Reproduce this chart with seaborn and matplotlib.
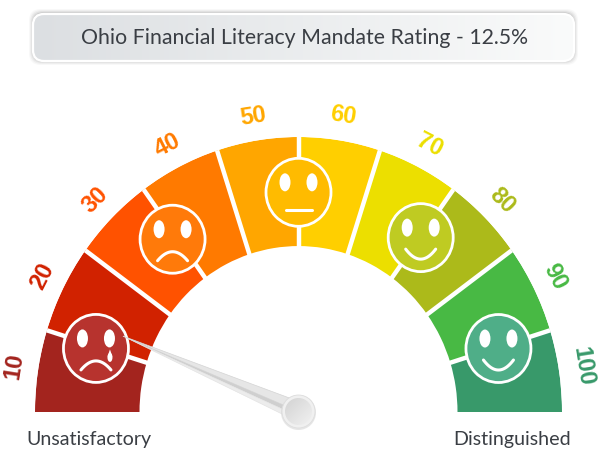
import numpy as np
import pandas as pd
import matplotlib
matplotlib.use("Agg")
import matplotlib.pyplot as plt
import seaborn as sns
from matplotlib.colors import LinearSegmentedColormap
from matplotlib.patches import Ellipse, FancyBboxPatch, Polygon, Circle

# ---- data ----
tick_labels = ["10", "20", "30", "40", "50", "60", "70", "80", "90", "100"]
band_tops = [10, 20, 30, 40, 50, 60, 70, 80, 90, 100]
band_edges = [0, 9.6, 20, 30, 40, 50, 60, 70, 80, 90.4, 100]
band_colors = ["#a3241e", "#d12200", "#ff5200", "#ff7a00", "#ffa600",
               "#ffcf00", "#ecdf00", "#acba1a", "#48b944", "#38996a"]
needle_value = 12.5
title_text = "Ohio Financial Literacy Mandate Rating - 12.5%"
low_label = "Unsatisfactory"
high_label = "Distinguished"
face_values = [9.3, 29.3, 50, 70.1, 90.6]
face_radii = [211.5, 208, 210.5, 207, 209]
face_colors = ["#b7332e", "#ff7a0a", "#ffbb00", "#bfcb22", "#4fae88"]
face_moods = [-1, -1, 0, 1, 1]

W, H = 600, 452
CX, CY, RX, RY = 298.5, 413, 263.5, 275
R_IN = 159
TEXT_FONT = "Lato"

sns.set_theme(style="white", rc={"axes.grid": False})
fig = plt.figure(figsize=(W / 100, H / 100), dpi=100, facecolor="white")

def theta(v):
    return np.deg2rad(180 - 1.8 * np.asarray(v, dtype=float))

# polar gauge axes, stretched slightly taller than wide
gauge = fig.add_axes([(CX - RX) / W, 1 - (CY + RY) / H, 2 * RX / W, 2 * RY / H],
                     projection="polar")
gauge.set_aspect("auto")
gauge.patch.set_alpha(0)
df = pd.DataFrame({"theta": theta(np.array(band_tops) - 5),
                   "depth": RX - R_IN, "label": tick_labels})
sns.barplot(data=df, x="theta", y="depth", hue="label", hue_order=tick_labels,
            palette=band_colors, saturation=1, native_scale=True, width=1,
            legend=False, ax=gauge, linewidth=0, errorbar=None, bottom=R_IN)
for patch, lo, hi in zip(gauge.patches, band_edges[:-1], band_edges[1:]):
    patch.set_x(float(theta(hi)))
    patch.set_width(float(theta(lo) - theta(hi)))
gauge.set_xlim(0, 2 * np.pi)
gauge.set_ylim(0, RX)
gauge.set_xlabel(""); gauge.set_ylabel("")
gauge.set_xticks([]); gauge.set_yticks([])
gauge.grid(False)
gauge.spines["polar"].set_visible(False)
for b in band_edges[1:-1]:
    gauge.plot([theta(b)] * 2, [R_IN - 3, RX + 3], color="white", lw=3.2,
               solid_capstyle="butt", zorder=3)

for t, lab, col in zip(band_tops, tick_labels, band_colors):
    a = 180 - 1.8 * (t - 5)
    gauge.text(theta(t - 5), 288, lab, rotation=a - 90, rotation_mode="anchor",
               ha="center", va="center", color=col, fontsize=17,
               fontweight="bold", family="Liberation Sans", clip_on=False)

# overlay in pixel space for gauge furniture
ov = fig.add_axes([0, 0, 1, 1], zorder=5)
ov.set_xlim(0, W); ov.set_ylim(H, 0); ov.axis("off"); ov.patch.set_alpha(0)

def to_px(v, r):
    p = gauge.transData.transform((float(theta(v)), r))
    return ov.transData.inverted().transform(p)

# title box
for g, a in [(4, .05), (3, .07), (2, .10), (1, .16)]:
    ov.add_patch(FancyBboxPatch((33 - g, 14 - g), 541 + 2 * g, 48 + 2 * g,
                 boxstyle="round,pad=0,rounding_size=12", fc="#777777", ec="none", alpha=a))
box = FancyBboxPatch((33, 15), 541, 47, boxstyle="round,pad=0,rounding_size=11",
                     fc="none", ec="white", lw=1.6, zorder=3)
ov.add_patch(box)
grad = ov.imshow(np.linspace(0, 1, 256)[None, :], extent=(33, 574, 62, 15), aspect="auto",
                 cmap=LinearSegmentedColormap.from_list("g", ["#dcdfe2", "#fafbfb"]), zorder=2)
grad.set_clip_path(box)
ov.set_xlim(0, W); ov.set_ylim(H, 0)
ov.text(304.5, 37.5, title_text, ha="center", va="center", fontsize=15.3, color="#3a3e44",
        family=TEXT_FONT, zorder=4)

# faces
for v, r, col, mood in zip(face_values, face_radii, face_colors, face_moods):
    x, y = to_px(v, r)
    ov.add_patch(Ellipse((x, y), 65, 68, fc=col, ec="white", lw=2))
    for s in (-1, 1):
        ov.add_patch(Ellipse((x + s * 13.5, y - 10), 11, 18, fc="white", ec="none"))
    u = np.linspace(-15, 15, 30)
    if mood == 0:
        ov.plot([x - 13, x + 13], [y + 18, y + 18], color="white", lw=2.2, solid_capstyle="round")
    elif mood > 0:
        ov.plot(x + u, y + 21.5 - 10 * (u / 15) ** 2, color="white", lw=2.2, solid_capstyle="round")
    else:
        ov.plot(x + u, y + 12.5 + 9 * (u / 15) ** 2, color="white", lw=2.2, solid_capstyle="round")
    if col == face_colors[0]:
        ov.add_patch(Ellipse((x + 14, y + 9), 5, 9, fc="white", ec="none"))
        ov.add_patch(Polygon([(x + 14, y + 1), (x + 11.6, y + 8), (x + 16.4, y + 8)], fc="white", ec="none"))

# needle
tip = np.asarray(to_px(needle_value, 190))
piv = np.array([CX, CY - 0.5])
d = piv - tip
u = d / np.hypot(*d)
n = np.array([-u[1], u[0]])
ov.add_patch(Polygon([tip, piv - 9.5 * n, piv], fc="#e6e6e6", ec="#d4d4d4", lw=.5))
ov.add_patch(Polygon([tip, piv, piv + 4.5 * n], fc="#cfcfcf", ec="none"))
ov.add_patch(Polygon([tip, piv + 4.5 * n, piv + 9.5 * n], fc="#ececec", ec="#e0e0e0", lw=.4))

# hub
ov.add_patch(Circle((piv[0], piv[1] + 1), 17.5, fc="#d6d6d6", ec="none", alpha=.6))
ov.add_patch(Circle(piv, 16.5, fc="#f0f0f0", ec="#dedede", lw=.6))
hub_clip = Circle(piv, 13.5, transform=ov.transData, fc="none", ec="none")
ov.add_patch(hub_clip)
yy, xx = np.mgrid[0:1:64j, 0:1:64j]
hub = ov.imshow((xx + yy) / 2, extent=(piv[0] - 14, piv[0] + 14, piv[1] + 14, piv[1] - 14),
                aspect="auto", cmap=LinearSegmentedColormap.from_list("h", ["#d2d2d2", "#f2f2f2"]),
                zorder=3)
hub.set_clip_path(hub_clip)
ov.set_xlim(0, W); ov.set_ylim(H, 0)

ov.text(89, 440, low_label, ha="center", va="center", fontsize=14.1, color="#3a3e44", family=TEXT_FONT)
ov.text(512.5, 440, high_label, ha="center", va="center", fontsize=14.1, color="#3a3e44", family=TEXT_FONT)

fig.savefig("out.png", dpi=100, facecolor="white")
